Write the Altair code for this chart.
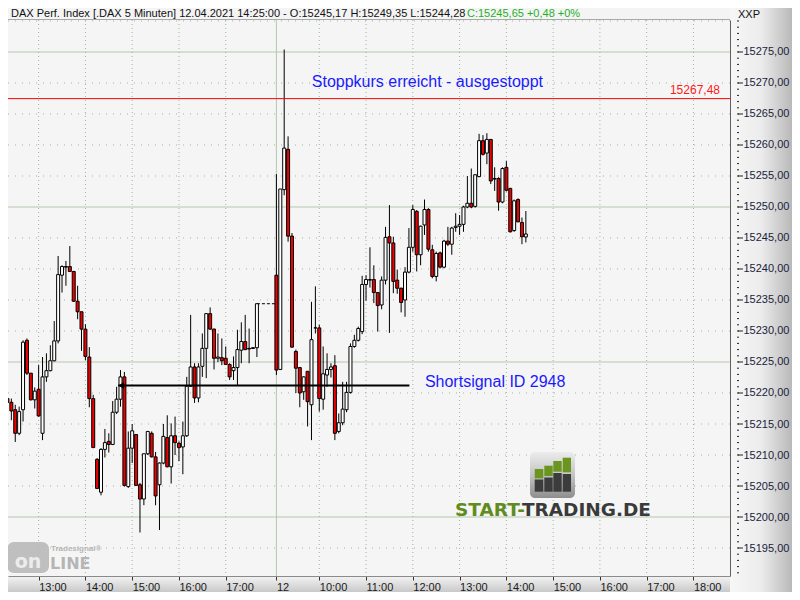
import altair as alt
import pandas as pd

# ------------------------------------------------------------------ data
instrument = "DAX Perf. Index [.DAX  5 Minuten] 12.04.2021 14:25:00 - O:15245,17 H:15249,35 L:15244,28"
last_change = "C:15245,65 +0,48 +0%"

day1_first_bar = "2021-04-09 12:20"   # 5-minute bars, bar close time
day2_first_bar = "2021-04-12 09:05"

day1_open = [15219.1, 15218.5, 15217.3, 15213.5, 15217.3, 15228.5, 15223.2, 15218.9, 15220.6, 15213.5,
             15222.6, 15223.6, 15225.2, 15228.4, 15239.0, 15240.4, 15240.4, 15239.6, 15234.8, 15233.1,
             15230.3, 15225.8, 15219.1, 15209.3, 15204.0, 15210.9, 15212.2, 15211.7, 15216.9, 15219.0,
             15222.6, 15204.9, 15211.1, 15213.3, 15205.2, 15202.9, 15210.2, 15213.5, 15209.7, 15205.2,
             15208.7, 15212.8, 15208.1, 15213.1, 15211.9, 15211.3, 15213.1, 15221.1, 15224.2, 15219.2,
             15224.3, 15227.2, 15232.8, 15230.3, 15225.6, 15225.7, 15225.6, 15224.6, 15223.6, 15224.1,
             15226.9, 15228.3, 15227.2, 15227.3, 15227.3]
day1_high = [15219.9, 15219.1, 15218.1, 15217.8, 15228.5, 15228.8, 15223.2, 15220.9, 15224.5, 15225.8,
             15226.4, 15227.7, 15231.6, 15242.1, 15240.6, 15241.3, 15243.7, 15239.7, 15237.3, 15233.1,
             15231.1, 15227.4, 15219.7, 15209.5, 15211.1, 15214.2, 15213.5, 15218.7, 15221.0, 15223.7,
             15223.4, 15213.8, 15215.0, 15213.3, 15205.5, 15210.2, 15213.8, 15213.8, 15210.5, 15208.8,
             15215.0, 15216.4, 15215.1, 15216.2, 15212.2, 15215.4, 15222.6, 15232.6, 15224.8, 15224.8,
             15229.6, 15232.9, 15233.8, 15230.4, 15229.6, 15228.8, 15227.5, 15224.8, 15225.9, 15230.2,
             15231.4, 15232.6, 15230.4, 15227.4, 15234.4]
day1_low = [15214.6, 15215.6, 15212.1, 15213.2, 15215.4, 15222.9, 15218.8, 15217.5, 15216.2, 15212.4,
            15221.8, 15223.5, 15225.1, 15228.0, 15236.2, 15237.3, 15239.5, 15234.7, 15231.9, 15226.8,
            15225.3, 15217.7, 15211.1, 15204.5, 15203.5, 15209.6, 15210.4, 15211.6, 15216.6, 15217.8,
            15204.9, 15204.7, 15208.7, 15205.1, 15197.5, 15201.9, 15210.0, 15209.6, 15201.9, 15197.9,
            15208.5, 15208.0, 15205.4, 15210.0, 15209.0, 15206.9, 15212.9, 15221.0, 15218.4, 15218.5,
            15222.6, 15222.4, 15230.2, 15223.8, 15225.0, 15224.5, 15224.5, 15222.1, 15222.1, 15221.3,
            15224.8, 15226.9, 15224.8, 15227.1, 15225.8]
day1_close = [15218.5, 15217.1, 15213.5, 15217.0, 15228.2, 15223.2, 15218.9, 15220.3, 15216.3, 15222.6,
              15223.6, 15225.2, 15228.4, 15239.1, 15240.4, 15240.3, 15239.6, 15234.8, 15233.1, 15230.3,
              15225.9, 15219.1, 15211.2, 15204.6, 15210.9, 15212.0, 15211.7, 15216.9, 15219.0, 15222.6,
              15205.1, 15211.1, 15213.9, 15205.1, 15202.9, 15210.2, 15213.8, 15209.7, 15203.4, 15208.7,
              15213.0, 15208.1, 15213.1, 15212.0, 15211.2, 15213.1, 15221.1, 15224.2, 15219.2, 15224.2,
              15227.2, 15232.8, 15230.3, 15225.6, 15225.8, 15225.2, 15224.6, 15222.6, 15224.1, 15227.0,
              15228.3, 15227.0, 15227.1, 15227.2, 15234.4]

day2_open = [15239.0, 15223.8, 15252.8, 15259.3, 15245.3, 15226.7, 15224.1, 15220.2, 15223.5, 15218.1,
             15230.5, 15230.5, 15219.0, 15222.9, 15223.8, 15224.4, 15213.8, 15215.2, 15217.3, 15220.1,
             15227.5, 15228.5, 15229.9, 15237.5, 15238.2, 15238.3, 15236.2, 15234.2, 15238.2, 15245.2,
             15244.2, 15238.2, 15236.9, 15235.0, 15239.5, 15243.5, 15249.3, 15242.3, 15247.1, 15249.6,
             15243.1, 15238.8, 15242.6, 15240.3, 15244.5, 15244.0, 15246.7, 15246.9, 15247.2, 15250.0,
             15250.6, 15250.1, 15254.9, 15260.7, 15258.7, 15260.9, 15254.5, 15254.6, 15250.8, 15256.4,
             15253.0, 15246.2, 15251.2, 15247.5, 15245.17]
day2_high = [15255.3, 15252.9, 15275.4, 15261.4, 15245.8, 15227.0, 15224.2, 15222.7, 15223.5, 15234.7,
             15237.2, 15231.0, 15227.5, 15226.4, 15224.8, 15226.1, 15216.7, 15221.8, 15221.8, 15228.0,
             15229.4, 15230.7, 15238.9, 15239.0, 15243.5, 15240.6, 15236.3, 15238.8, 15246.8, 15250.3,
             15245.2, 15239.9, 15237.0, 15240.3, 15246.6, 15250.3, 15249.5, 15247.0, 15251.2, 15249.8,
             15243.9, 15242.8, 15242.8, 15244.7, 15246.8, 15246.8, 15249.0, 15248.7, 15250.2, 15255.0,
             15256.2, 15255.3, 15261.8, 15261.6, 15261.9, 15260.9, 15256.4, 15254.8, 15256.4, 15257.4,
             15253.1, 15251.2, 15251.4, 15248.3, 15249.35]
day2_low = [15222.9, 15223.7, 15251.9, 15244.4, 15227.3, 15220.0, 15217.7, 15218.9, 15214.6, 15212.4,
            15229.6, 15217.0, 15217.3, 15221.0, 15222.5, 15212.4, 15213.5, 15214.8, 15216.9, 15219.9,
            15227.3, 15228.3, 15229.5, 15234.9, 15237.0, 15234.5, 15229.9, 15233.5, 15237.5, 15229.7,
            15236.1, 15236.0, 15233.0, 15232.3, 15239.3, 15242.8, 15239.6, 15240.6, 15245.5, 15242.8,
            15238.5, 15238.0, 15240.1, 15240.1, 15243.7, 15242.3, 15246.0, 15245.5, 15246.0, 15249.8,
            15249.8, 15249.9, 15254.8, 15258.3, 15256.9, 15253.7, 15252.6, 15249.4, 15250.6, 15252.5,
            15245.9, 15246.0, 15247.6, 15244.0, 15244.28]
day2_close = [15223.7, 15252.9, 15259.5, 15245.3, 15227.4, 15224.0, 15220.0, 15222.6, 15218.6, 15228.6,
              15230.5, 15219.1, 15223.1, 15223.8, 15224.2, 15213.5, 15215.2, 15217.4, 15220.1, 15227.5,
              15228.5, 15230.4, 15237.5, 15238.3, 15238.3, 15236.2, 15234.1, 15238.2, 15245.1, 15244.2,
              15238.0, 15236.9, 15234.6, 15239.5, 15243.5, 15249.6, 15242.3, 15246.9, 15249.6, 15243.2,
              15238.8, 15242.5, 15240.3, 15244.5, 15244.0, 15246.6, 15246.9, 15247.2, 15250.0, 15250.6,
              15250.0, 15255.2, 15260.7, 15258.5, 15260.9, 15254.2, 15254.6, 15250.8, 15256.2, 15252.7,
              15246.0, 15251.0, 15247.6, 15245.2, 15245.65]

stop_level = 15267.48
stop_label = "15267,48"
stop_text = "Stoppkurs erreicht - ausgestoppt"
signal_level = 15221.2
signal_text = "Shortsignal ID 2948"

y_tick_values = [15195, 15200, 15205, 15210, 15215, 15220, 15225, 15230, 15235,
                 15240, 15245, 15250, 15255, 15260, 15265, 15270, 15275]
x_hour_ticks = [13, 14, 15, 16, 17, 19, 20, 21, 22, 23, 24, 25, 26, 27]   # day 2 hours drawn +9
SESSION_SHIFT = 9  # day-2 09:00 sits where day-1 18:00 would be

# ------------------------------------------------------------------ frames
def bars_frame(first, o, h, l, c, shift):
    ts = pd.date_range(first, periods=len(o), freq="5min")
    return pd.DataFrame({"t": ts.hour + ts.minute / 60 + shift,
                         "open": o, "high": h, "low": l, "close": c})

d1 = bars_frame(day1_first_bar, day1_open, day1_high, day1_low, day1_close, 0)
d2 = bars_frame(day2_first_bar, day2_open, day2_high, day2_low, day2_close, SESSION_SHIFT)
df = pd.concat([d1, d2], ignore_index=True)
df["fill"] = ["#ee0000" if c < o else "#ffffff" for o, c in zip(df["open"], df["close"])]

day_break = float(d2["t"].iloc[0])
gap_df = pd.DataFrame({"t1": [float(d1["t"].iloc[-1])], "t2": [day_break], "p": [d1["close"].iloc[-1]]})

FONT = "Liberation Sans"
xs = alt.Scale(domain=[12.4518, 27.6745], nice=False, zero=False)
ys = alt.Scale(domain=[15190.484, 15280.161], nice=False, zero=False)

x_axis = alt.Axis(values=x_hour_ticks[:5] + [day_break] + x_hour_ticks[5:], orient="bottom",
                  labelExpr="datum.value < 18 ? datum.value + ':00' : (datum.value < 18.5 ? '12' : (datum.value - 9) + ':00')",
                  grid=False, domain=True, domainColor="#8a8a8a", ticks=True, tickColor="#333333",
                  tickSize=4, labelFont=FONT, labelFontSize=11, labelColor="#1a1a1a",
                  labelAlign="left", labelBaseline="top", labelPadding=1,
                  labelFlush=False, labelOverlap=False, title=None, zindex=1)
y_axis = alt.Axis(values=y_tick_values, orient="right",
                  labelExpr="replace(format(datum.value, '.2f'), '.', ',')",
                  grid=False, ticks=False, domain=True, domainColor="#606060",
                  labelPadding=13, labelFont=FONT, labelFontSize=11, labelColor="#1c1c3c",
                  labelAlign="left", labelBaseline="middle", labelFlush=False, labelOverlap=False,
                  title=None, zindex=1)

X = lambda f: alt.X(f, type="quantitative", scale=xs, axis=x_axis)
Y = lambda f: alt.Y(f, type="quantitative", scale=ys, axis=y_axis)
one = pd.DataFrame({"k": [0]})

def txt(s, x, y, **kw):
    return alt.Chart(pd.DataFrame({"s": [s]})).mark_text(clip=False, **kw).encode(
        x=alt.value(x), y=alt.value(y), text="s:N")

def box(x, x2, y, y2, **kw):
    return alt.Chart(one).mark_rect(clip=False, **kw).encode(
        x=alt.value(x), x2=alt.value(x2), y=alt.value(y), y2=alt.value(y2))

# ------------------------------------------------------------------ grid
grid_h = pd.DataFrame({"p": y_tick_values + [15280]})
grid_dot = alt.Chart(grid_h[grid_h["p"] % 25 != 0]).mark_rule(
    color="#9db79d", strokeDash=[1, 6], strokeWidth=1).encode(y=Y("p"))
grid_sol = alt.Chart(grid_h[grid_h["p"] % 25 == 0]).mark_rule(
    color="#b3c8ad", strokeWidth=1).encode(y=Y("p"))
vgrid_dot = alt.Chart(pd.DataFrame({"t": x_hour_ticks})).mark_rule(
    color="#9db79d", strokeDash=[1, 3], strokeWidth=1).encode(x=X("t"))
vgrid_sol = alt.Chart(pd.DataFrame({"t": [day_break]})).mark_rule(
    color="#b3c8ad", strokeWidth=1).encode(x=X("t"))

# ------------------------------------------------------------------ panels
grad_right = alt.LinearGradient(gradient="linear", x1=0, x2=1, y1=0, y2=0, stops=[
    alt.GradientStop(color="#f7f7f7", offset=0), alt.GradientStop(color="#ececec", offset=0.5),
    alt.GradientStop(color="#b9b9b9", offset=1)])
grad_bottom = alt.LinearGradient(gradient="linear", x1=0, x2=0, y1=0, y2=1, stops=[
    alt.GradientStop(color="#f4f4f4", offset=0), alt.GradientStop(color="#c9c9c9", offset=1)])
panels = [
    box(0, 722, -12, 0, fill="#f4f4f4"),
    box(0, 722, -1, 0, fill="#a8a8a8"),
    box(722, 784, -12, 572, fill=grad_right),
    box(0, 722, 556, 572, fill=grad_bottom),
]

# ------------------------------------------------------------------ candles
minor = alt.Chart(pd.DataFrame({"p": list(range(15191, 15281))})).mark_rule(
    color="#222222", clip=False).encode(x=alt.value(729), x2=alt.value(731), y=Y("p"))
major = alt.Chart(pd.DataFrame({"p": y_tick_values})).mark_rule(
    color="#222222", clip=False).encode(x=alt.value(730), x2=alt.value(735), y=Y("p"))

gap = alt.Chart(gap_df).mark_rule(color="black", strokeDash=[3, 2], clip=True).encode(
    x=X("t1"), x2="t2:Q", y=Y("p"))
wicks = alt.Chart(df).mark_rule(color="black", strokeWidth=1, clip=True).encode(
    x=X("t"), y=Y("low"), y2="high:Q")
bodies = alt.Chart(df).mark_bar(width=3, stroke="black", strokeWidth=1, clip=True).encode(
    x=X("t"), y=Y("open"), y2="close:Q", fill=alt.Fill("fill:N", scale=None))

stop_line = alt.Chart(pd.DataFrame({"p": [stop_level]})).mark_rule(color="#ff0000", strokeWidth=1).encode(y=Y("p"))
stop_lbl = alt.Chart(pd.DataFrame({"p": [stop_level], "s": [stop_label]})).mark_text(
    align="right", baseline="bottom", dy=-2, font=FONT, fontSize=12, color="#ff1a1a").encode(
    x=alt.value(712), y=Y("p"), text="s:N")

sig = pd.DataFrame({"t1": [14.70], "t2": [20.927], "p": [signal_level]})
sig_line = alt.Chart(sig).mark_rule(color="black", strokeWidth=2).encode(x=X("t1"), x2="t2:Q", y=Y("p"))
sig_arrow = alt.Chart(sig).mark_point(shape="triangle-left", filled=True, color="black", size=45, opacity=1,
                                      xOffset=3).encode(x=X("t1"), y=Y("p"))

ann = pd.DataFrame({"t": [18.840, 21.258], "p": [15269.35, 15220.97], "s": [stop_text, signal_text]})
ann_txt = alt.Chart(ann).mark_text(align="left", baseline="alphabetic", font=FONT, fontSize=16,
                                   color="#1a1aff").encode(x=X("t"), y=Y("p"), text="s:N")

# ------------------------------------------------------------------ header / logos
texts = [
    txt(instrument, 3, -3, align="left", baseline="alphabetic", font=FONT, fontSize=11, color="#111111"),
    txt(last_change, 459, -3, align="left", baseline="alphabetic", font=FONT, fontSize=11, color="#1fb21f"),
    txt("XXP", 730, -2, align="left", baseline="alphabetic", font=FONT, fontSize=11, color="#111111"),
]
grad_icon = alt.LinearGradient(gradient="linear", x1=0, x2=0, y1=0, y2=1, stops=[
    alt.GradientStop(color="#ececec", offset=0), alt.GradientStop(color="#c4c4c4", offset=0.5),
    alt.GradientStop(color="#8e8e8e", offset=1)])
brand_a, brand_b = "START-", "TRADING.DE"
logo = [
    box(522, 567, 432, 478, fill=grad_icon, cornerRadius=5),
    box(526.7, 535.3, 459.5, 471.7, fill="#3c3c3c"),
    box(536.3, 544.7, 457.5, 471.7, fill="#3c3c3c"),
    box(545.3, 553.7, 453.0, 471.7, fill="#3c3c3c"),
    box(554.7, 563.0, 454.0, 471.7, fill="#3c3c3c"),
    box(526.7, 535.3, 449.0, 458.3, fill="#6a961f"),
    box(536.3, 544.7, 445.7, 456.0, fill="#6a961f"),
    box(545.3, 553.7, 441.0, 451.7, fill="#6a961f"),
    box(554.7, 563.0, 437.7, 452.3, fill="#6a961f"),
    txt(brand_a, 447, 496, align="left", baseline="alphabetic", font="DejaVu Sans", fontSize=18.5,
        fontWeight="bold", color="#5f8c1c"),
    txt(brand_b, 643, 496, align="right", baseline="alphabetic", font="DejaVu Sans", fontSize=18.5,
        fontWeight="bold", color="#3a3a3a"),
    box(-1, 41, 522, 553, fill="#b9b9b9", cornerRadius=7, opacity=0.9),
    txt("on", 20, 548, align="center", baseline="alphabetic", font="DejaVu Sans", fontSize=19,
        fontWeight="bold", color="#ececec"),
    txt("LINE", 42, 549, align="left", baseline="alphabetic", font="DejaVu Sans", fontSize=16,
        fontWeight="bold", color="#b5b5b5"),
    txt("Tradesignal\u00ae", 43, 531, align="left", baseline="alphabetic", font=FONT, fontSize=8,
        fontWeight="bold", color="#b5b5b5"),
]

layers = ([grid_dot, grid_sol, vgrid_dot, vgrid_sol] + panels + logo +
          [gap, wicks, bodies, stop_line, stop_lbl, sig_line, sig_arrow, ann_txt, minor, major] + texts)

chart = alt.layer(*layers).properties(
    width=722, height=556,
    autosize=alt.AutoSizeParams(type="none"),
    padding={"left": 0, "top": 12, "right": 62, "bottom": 16},
    background="#f2f2f2",
).configure_view(fill="#f5f5f5", stroke=None)

chart.save("out.html", embed_options={"renderer": "svg", "actions": False})
